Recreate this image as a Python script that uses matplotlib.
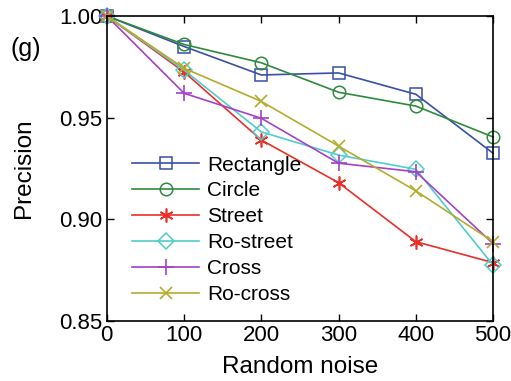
import matplotlib
matplotlib.use("Agg")
import matplotlib.pyplot as plt

plt.rcParams['font.family'] = ['Liberation Sans', 'DejaVu Sans']

noise = [0, 100, 200, 300, 400, 500]
rectangle = [1.0, 0.985, 0.971, 0.972, 0.9615, 0.9325]
circle = [1.0, 0.986, 0.977, 0.9625, 0.9557, 0.9405]
street = [1.0, 0.9725, 0.939, 0.918, 0.889, 0.8787]
ro_street = [1.0, 0.9734, 0.943, 0.9316, 0.9246, 0.8775]
cross = [1.0, 0.962, 0.9497, 0.9276, 0.9234, 0.888]
ro_cross = [1.0, 0.9743, 0.958, 0.936, 0.914, 0.889]

series = [
    ("Rectangle", rectangle, "#3850A8", "s"),
    ("Circle", circle, "#2E8A3C", "o"),
    ("Street", street, "#E83028", (6, 2, 0)),
    ("Ro-street", ro_street, "#50CCCC", "D"),
    ("Cross", cross, "#A640C8", "+"),
    ("Ro-cross", ro_cross, "#B4AC2C", "x"),
]

fig = plt.figure(figsize=(5.11, 3.81), dpi=100)
ax = fig.add_axes([0.209, 0.1575, 0.756, 0.8005])

for name, vals, col, mk in series:
    kw = dict(color=col, lw=1.2, marker=mk, label=name)
    if mk in ("s", "o", "D"):
        kw.update(markerfacecolor="none", markeredgecolor=col,
                  markersize=9 if mk != "D" else 8, markeredgewidth=1.1)
    elif mk == "x":
        kw.update(markersize=8, markeredgewidth=1.2)
    elif mk == "+":
        kw.update(markersize=12, markeredgewidth=1.2)
    else:
        kw.update(markersize=10, markeredgewidth=1.2)
    ax.plot(noise, vals, clip_on=False, **kw)

ax.set_xlim(0, 500)
ax.set_ylim(0.85, 1.0)
ax.set_xticks(noise)
ax.set_yticks([0.85, 0.90, 0.95, 1.00])
ax.set_yticklabels(["0.85", "0.90", "0.95", "1.00"])
ax.tick_params(direction="in", top=True, right=True, labelsize=16, length=5, width=1, pad=3)
for s in ax.spines.values():
    s.set_linewidth(1.2)
ax.set_xlabel("Random noise", fontsize=17.5, labelpad=7)
ax.set_ylabel("Precision", fontsize=17.5)
ax.yaxis.set_label_coords(-0.187, 0.5)
fig.text(0.02, 0.852, "(g)", fontsize=18)

leg = ax.legend(loc="lower left", frameon=False, fontsize=15, handlelength=3.2,
                labelspacing=0.33, borderaxespad=0.42, bbox_to_anchor=(0.022, 0.0),
                handletextpad=0.4)

fig.savefig("out.png", dpi=100)
